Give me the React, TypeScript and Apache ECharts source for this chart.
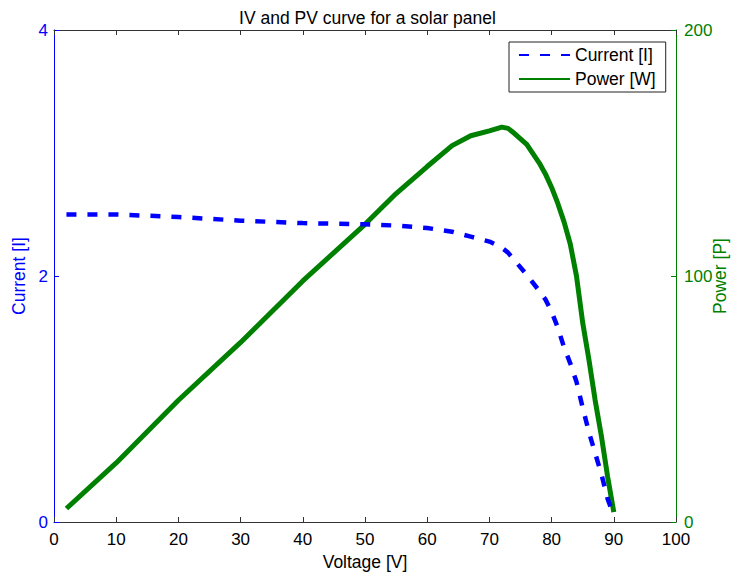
import React, { useEffect, useRef } from "react";
import * as echarts from "echarts";

const voltage = [2, 10, 20, 30, 40, 50, 55, 60, 64, 67, 70, 72, 73, 74, 76, 78, 79, 80, 81, 82, 83, 84, 85, 86, 87, 88, 89, 90];
const current = [2.5, 2.5, 2.48, 2.45, 2.43, 2.42, 2.41, 2.39, 2.36, 2.32, 2.28, 2.23, 2.19, 2.13, 2.01, 1.88, 1.81, 1.71, 1.58, 1.42, 1.29, 1.14, 0.93, 0.73, 0.56, 0.39, 0.19, 0.05];
const power = [5.5, 24, 49.5, 73, 98, 121, 133.5, 144.5, 153, 157, 159, 160.5, 160, 158, 153.5, 146, 141.5, 136, 129.5, 122, 113, 100, 81, 66, 49.5, 35, 18.5, 4];

const xTicks = { min: 0, max: 100, interval: 10 };
const leftTicks = { min: 0, max: 4, interval: 2 };
const rightTicks = { min: 0, max: 200, interval: 100 };

const FONT = "'Liberation Sans', Arial, sans-serif";
const BLUE = "#0000ff";
const GREEN = "#008000";
const AXIS = "#333333";

export default function App() {
  const ref = useRef<HTMLDivElement>(null);
  useEffect(() => {
    if (!ref.current) return;
    const chart = echarts.init(ref.current, undefined, { renderer: "svg" });
    chart.setOption({
      animation: false,
      backgroundColor: "#ffffff",
      textStyle: { fontFamily: FONT },
      title: {
        text: "IV and PV curve for a solar panel",
        left: "center",
        top: 4,
        textStyle: { fontSize: 17.5, fontWeight: "normal", color: "#000", fontFamily: FONT },
      },
      legend: {
        orient: "vertical",
        left: 509,
        top: 42,
        padding: [3, 10, 3, 9],
        itemGap: 4,
        itemWidth: 51,
        itemHeight: 14,
        itemStyle: { opacity: 0 },
        borderColor: "#222",
        borderWidth: 1,
        backgroundColor: "#fff",
        textStyle: { fontSize: 17.5, color: "#000", fontFamily: FONT, lineHeight: 20 },
        data: ["Current [I]", "Power [W]"],
      },
      grid: { left: 54, right: 59, top: 30, bottom: 51, containLabel: false, outerBoundsMode: "none" },
      xAxis: [
        {
          type: "value",
          position: "bottom",
          ...xTicks,
          axisLine: { show: true, onZero: false, lineStyle: { color: AXIS, width: 1 } },
          axisTick: { show: true, inside: true, length: 5, lineStyle: { color: AXIS } },
          axisLabel: { color: "#000", fontSize: 17, margin: 10, lineHeight: 15, fontFamily: FONT },
          splitLine: { show: false },
          name: "Voltage [V]",
          nameLocation: "middle",
          nameGap: 31,
          nameMoveOverlap: false,
          nameTextStyle: { color: "#000", fontSize: 17.5, fontFamily: FONT },
        },
        {
          type: "value",
          position: "top",
          ...xTicks,
          axisLine: { show: true, onZero: false, lineStyle: { color: AXIS, width: 1 } },
          axisTick: { show: true, inside: true, length: 5, lineStyle: { color: AXIS } },
          axisLabel: { show: false },
          splitLine: { show: false },
        },
      ],
      yAxis: [
        {
          type: "value",
          position: "left",
          ...leftTicks,
          axisLine: { show: true, onZero: false, lineStyle: { color: BLUE, width: 1 } },
          axisTick: { show: true, inside: true, length: 5, lineStyle: { color: BLUE } },
          axisLabel: { color: BLUE, fontSize: 17, margin: 6, lineHeight: 15, fontFamily: FONT },
          splitLine: { show: false },
          name: "Current [I]",
          nameLocation: "middle",
          nameGap: 26,
          nameMoveOverlap: false,
          nameTextStyle: { color: BLUE, fontSize: 17.5, fontFamily: FONT },
        },
        {
          type: "value",
          position: "right",
          ...rightTicks,
          axisLine: { show: true, onZero: false, lineStyle: { color: GREEN, width: 1 } },
          axisTick: { show: true, inside: true, length: 5, lineStyle: { color: GREEN } },
          axisLabel: { color: GREEN, fontSize: 17, margin: 8, lineHeight: 15, padding: [0, 0, 3, 0], fontFamily: FONT },
          splitLine: { show: false },
          name: "Power [P]",
          nameLocation: "middle",
          nameGap: 35,
          nameMoveOverlap: false,
          nameTextStyle: { color: GREEN, fontSize: 17.5, fontFamily: FONT },
        },
      ],
      series: [
        {
          name: "Current [I]",
          type: "line",
          xAxisIndex: 0,
          yAxisIndex: 0,
          symbol: "none",
          data: voltage.map((v, i) => [v, current[i]]),
          lineStyle: { color: BLUE, width: 4.5, type: [10, 11] },
          itemStyle: { color: BLUE },
          z: 3,
        },
        {
          name: "Power [W]",
          type: "line",
          xAxisIndex: 0,
          yAxisIndex: 1,
          symbol: "none",
          data: voltage.map((v, i) => [v, power[i]]),
          lineStyle: { color: GREEN, width: 5 },
          itemStyle: { color: GREEN },
          z: 2,
        },
      ],
    });
    return () => chart.dispose();
  }, []);
  return (
    <div
      ref={ref}
      style={{ position: "fixed", left: 0, top: 0, width: 735, height: 573, background: "#fff" }}
    />
  );
}
